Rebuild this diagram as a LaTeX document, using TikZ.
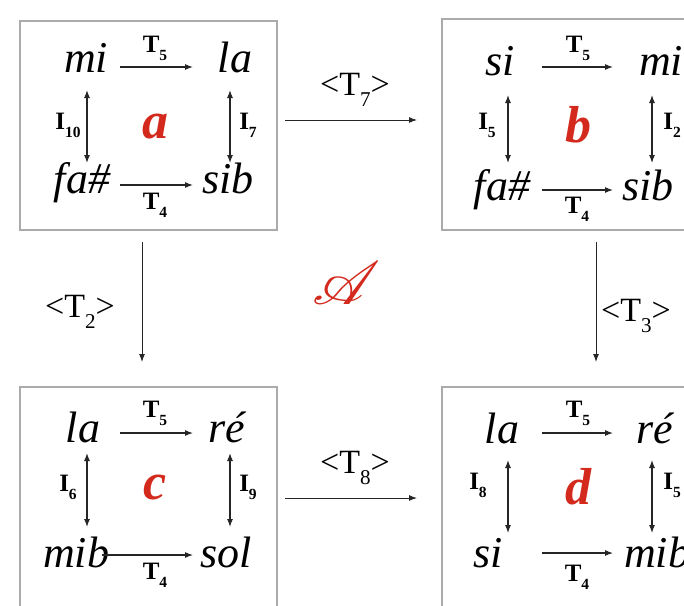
\documentclass[tikz,border=0pt]{standalone}
\usepackage{fontspec}
\setmainfont{Liberation Serif}
\usepackage{graphicx}
\usepackage{mathrsfs}
\usetikzlibrary{arrows.meta}
\definecolor{boxgray}{HTML}{ABABAB}
\definecolor{nred}{HTML}{D42A1E}
\newcommand{\lsub}[1]{\raisebox{-0.32em}{\scalebox{0.62}{#1}}}
\begin{document}
\begin{tikzpicture}[x=1pt,y=-1pt,
  note/.style={font=\fontsize{44}{44}\selectfont\itshape, inner sep=0pt, anchor=base},
  tlab/.style={font=\fontsize{25}{25}\selectfont\bfseries, inner sep=0pt},
  outlab/.style={font=\fontsize{34}{34}\selectfont, inner sep=0pt},
  boxletter/.style={font=\fontsize{52}{52}\selectfont\bfseries\itshape, text=nred, inner sep=0pt},
  boxst/.style={draw=boxgray, line width=2pt},
  arr/.style={-{Latex[length=8pt,width=6pt]}, line width=1.1pt, draw=black!85},
  darr/.style={{Latex[length=8pt,width=6pt]}-{Latex[length=8pt,width=6pt]}, line width=1.1pt, draw=black!85},
  link/.style={-{Latex[length=8pt,width=6pt]}, line width=1pt, draw=black!85}
]
\fill[white] (0,0) rectangle (684,605);
\useasboundingbox (0,0) rectangle (684,605);

% boxes
\draw[boxst] (20,21) rectangle (277,230);
\draw[boxst] (442,19) rectangle (700,230);
\draw[boxst] (20,387) rectangle (277,612);
\draw[boxst] (442,387) rectangle (700,612);

% ---- box a ----
\node[note] (a-mi) at (86,72) {mi};
\node[note] (a-la) at (235,72) {la};
\node[note] (a-fa) at (82,193) {fa\#};
\node[note] (a-sib) at (228,193) {sib};
\node[boxletter] (a-let) at (155,127) {a};
\coordinate (a-t5s) at (120,67); \coordinate (a-t5e) at (193,67);
\coordinate (a-t4s) at (120,185); \coordinate (a-t4e) at (193,185);
\coordinate (a-l1) at (87,90); \coordinate (a-l2) at (87,163);
\coordinate (a-r1) at (230,90); \coordinate (a-r2) at (230,163);
\draw[arr] (a-t5s) -- (a-t5e);
\draw[arr] (a-t4s) -- (a-t4e);
\draw[darr] (a-l1) -- (a-l2);
\draw[darr] (a-r1) -- (a-r2);
\node[tlab] (a-T5) at (155,48) {T\lsub{5}};
\node[tlab] (a-T4) at (155,205) {T\lsub{4}};
\node[tlab] (a-I10) at (68,125) {I\lsub{10}};
\node[tlab] (a-I7) at (248,125) {I\lsub{7}};

% ---- box b ----
\node[note] (b-si) at (500,75) {si};
\node[note] (b-mi) at (661,75) {mi};
\node[note] (b-fa) at (502,200) {fa\#};
\node[note] (b-sib) at (648,200) {sib};
\node[boxletter] (b-let) at (578,125) {b};
\coordinate (b-t5s) at (542,67); \coordinate (b-t5e) at (613,67);
\coordinate (b-t4s) at (542,190); \coordinate (b-t4e) at (613,190);
\coordinate (b-l1) at (508,95); \coordinate (b-l2) at (508,163);
\coordinate (b-r1) at (652,95); \coordinate (b-r2) at (652,163);
\draw[arr] (b-t5s) -- (b-t5e);
\draw[arr] (b-t4s) -- (b-t4e);
\draw[darr] (b-l1) -- (b-l2);
\draw[darr] (b-r1) -- (b-r2);
\node[tlab] (b-T5) at (578,48) {T\lsub{5}};
\node[tlab] (b-T4) at (577,209) {T\lsub{4}};
\node[tlab] (b-I5) at (487,125) {I\lsub{5}};
\node[tlab] (b-I2) at (672,125) {I\lsub{2}};

% ---- box c ----
\node[note] (c-la) at (83,442) {la};
\node[note] (c-re) at (227,442) {ré};
\node[note] (c-mib) at (76,567) {mib};
\node[note] (c-sol) at (226,567) {sol};
\node[boxletter] (c-let) at (155,487) {c};
\coordinate (c-t5s) at (120,433); \coordinate (c-t5e) at (193,433);
\coordinate (c-t4s) at (102,555); \coordinate (c-t4e) at (193,555);
\coordinate (c-l1) at (87,453); \coordinate (c-l2) at (87,527);
\coordinate (c-r1) at (230,453); \coordinate (c-r2) at (230,527);
\draw[arr] (c-t5s) -- (c-t5e);
\draw[arr] (c-t4s) -- (c-t4e);
\draw[darr] (c-l1) -- (c-l2);
\draw[darr] (c-r1) -- (c-r2);
\node[tlab] (c-T5) at (155,413) {T\lsub{5}};
\node[tlab] (c-T4) at (155,575) {T\lsub{4}};
\node[tlab] (c-I6) at (68,487) {I\lsub{6}};
\node[tlab] (c-I9) at (248,487) {I\lsub{9}};

% ---- box d ----
\node[note] (d-la) at (502,443) {la};
\node[note] (d-re) at (655,443) {ré};
\node[note] (d-si) at (488,567) {si};
\node[note] (d-mib) at (657,567) {mib};
\node[boxletter] (d-let) at (578,487) {d};
\coordinate (d-t5s) at (542,433); \coordinate (d-t5e) at (613,433);
\coordinate (d-t4s) at (542,553); \coordinate (d-t4e) at (613,553);
\coordinate (d-l1) at (508,460); \coordinate (d-l2) at (508,533);
\coordinate (d-r1) at (652,460); \coordinate (d-r2) at (652,533);
\draw[arr] (d-t5s) -- (d-t5e);
\draw[arr] (d-t4s) -- (d-t4e);
\draw[darr] (d-l1) -- (d-l2);
\draw[darr] (d-r1) -- (d-r2);
\node[tlab] (d-T5) at (578,413) {T\lsub{5}};
\node[tlab] (d-T4) at (577,577) {T\lsub{4}};
\node[tlab] (d-I8) at (478,485) {I\lsub{8}};
\node[tlab] (d-I5) at (672,485) {I\lsub{5}};

% ---- links between boxes ----
\coordinate (ab-s) at (285,120); \coordinate (ab-e) at (417,120);
\coordinate (cd-s) at (285,498); \coordinate (cd-e) at (417,498);
\coordinate (ac-s) at (142,242); \coordinate (ac-e) at (142,362);
\coordinate (bd-s) at (596,242); \coordinate (bd-e) at (596,362);
\draw[link] (ab-s) -- (ab-e);
\draw[link] (cd-s) -- (cd-e);
\draw[link] (ac-s) -- (ac-e);
\draw[link] (bd-s) -- (bd-e);
\node[outlab] (T7) at (355,90) {<T\lsub{7}>};
\node[outlab] (T8) at (355,468) {<T\lsub{8}>};
\node[outlab] (T2) at (80,312) {<T\lsub{2}>};
\node[outlab, anchor=west] (T3) at (601,316) {<T\lsub{3}>};

\node[text=nred, inner sep=0pt] (calA) at (347,283) {\scalebox{6.6}[6.1]{$\mathscr{A}$}};
\end{tikzpicture}
\end{document}
